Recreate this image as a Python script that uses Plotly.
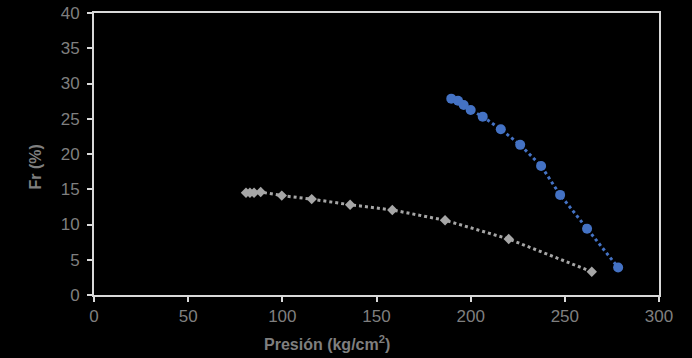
import plotly.graph_objects as go

# Blue series (circles)
presion_a = [189.7, 193.3, 196.3, 200.0, 206.4, 216.0, 226.3, 237.4, 247.5, 261.8, 278.3]
fr_a = [27.85, 27.56, 26.95, 26.24, 25.3, 23.5, 21.3, 18.3, 14.2, 9.4, 3.9]

# Grey series (diamonds)
presion_b = [80.7, 82.8, 85.0, 88.5, 99.7, 115.6, 136.0, 158.4, 186.4, 220.2, 264.3]
fr_b = [14.5, 14.5, 14.5, 14.6, 14.1, 13.6, 12.8, 12.06, 10.6, 7.94, 3.3]

x_ticks = [0, 50, 100, 150, 200, 250, 300]
y_ticks = [0, 5, 10, 15, 20, 25, 30, 35, 40]

FONT = "Liberation Sans, Arial, sans-serif"

fig = go.Figure()
fig.add_trace(go.Scatter(
    x=presion_b, y=fr_b, mode="lines+markers",
    line=dict(color="#a6a6a6", width=3, dash="dot"),
    marker=dict(symbol="diamond", size=8, color="#a6a6a6"),
    showlegend=False))
fig.add_trace(go.Scatter(
    x=presion_a, y=fr_a, mode="lines+markers",
    line=dict(color="#4472c4", width=3, dash="dot"),
    marker=dict(symbol="circle", size=10, color="#4472c4"),
    showlegend=False))

axis_common = dict(
    showgrid=False, zeroline=False, showline=True, mirror=True,
    linecolor="#d9d9d9", linewidth=2, ticks="outside", ticklen=5,
    tickcolor="#d9d9d9", tickwidth=2, automargin=False,
    tickfont=dict(family=FONT, size=17, color="#7f7f7f"),
)

fig.update_layout(
    width=692, height=358,
    margin=dict(l=94, r=33, t=13, b=63, autoexpand=False),
    paper_bgcolor="black", plot_bgcolor="black",
    xaxis=dict(range=[0, 300], tickvals=x_ticks, **axis_common),
    yaxis=dict(range=[0, 40], tickvals=y_ticks, ticklabelstandoff=4, **axis_common),
    annotations=[
        dict(text="<b>Presión (kg/cm<sup>2</sup>)</b>", xref="paper", yref="paper",
             x=(327 - 94) / 565, y=-0.212, xanchor="center", yanchor="bottom",
             showarrow=False, font=dict(family=FONT, size=16, color="#7f7f7f")),
        dict(text="<b>Fr (%)</b>", xref="paper", yref="paper",
             x=-0.085, y=0.454, xanchor="right", yanchor="middle", textangle=-90,
             showarrow=False, font=dict(family=FONT, size=16, color="#7f7f7f")),
    ],
)

fig.write_html("out.html", config={"displayModeBar": False},
               post_script="document.body.style.margin='0';document.body.style.overflow='hidden';")
